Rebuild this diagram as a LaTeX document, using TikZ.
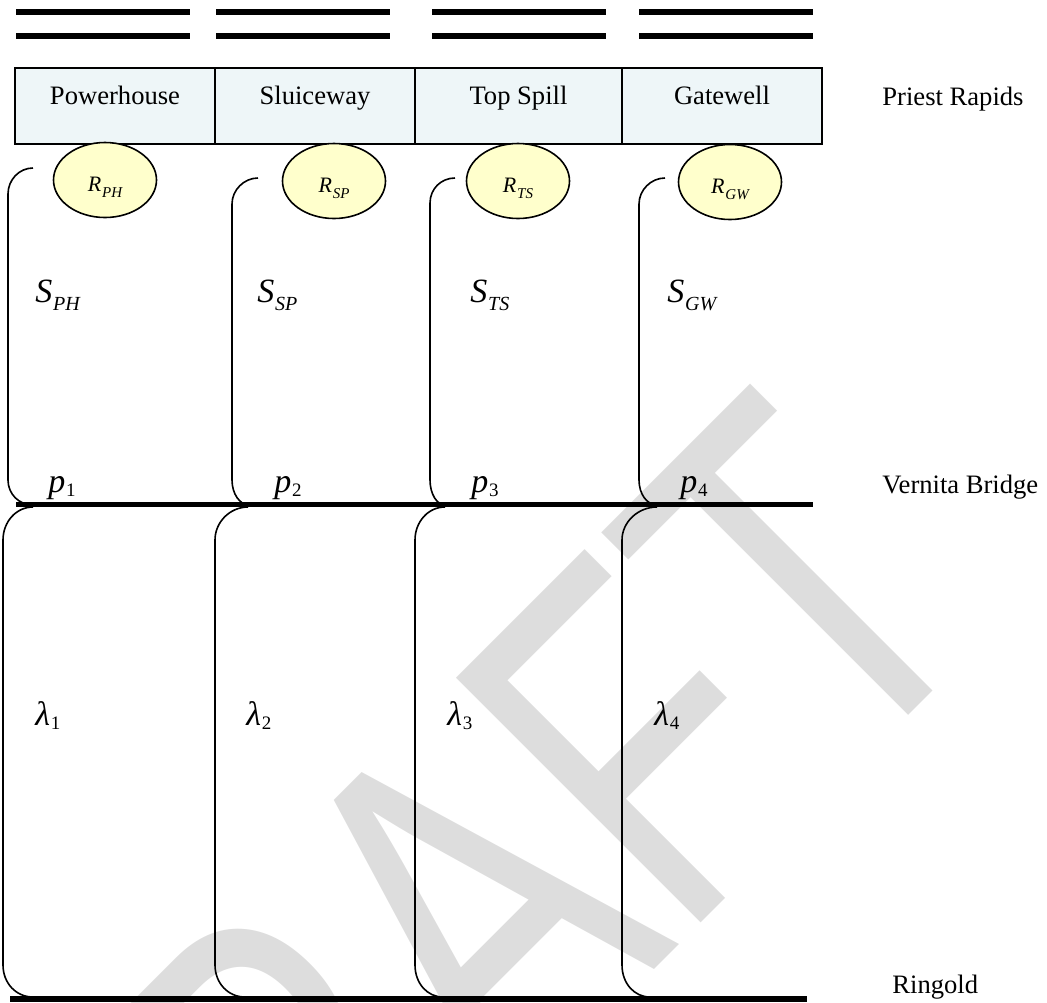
\documentclass[tikz,border=0pt]{standalone}
\usepackage{fontspec}
\setmainfont{Liberation Serif}
\newfontfamily\wmfont{Liberation Sans}
\usetikzlibrary{shapes.geometric}

\definecolor{boxfill}{RGB}{238,246,248}
\definecolor{dotfill}{RGB}{255,255,204}
\definecolor{wmgray}{RGB}{221,221,221}

% symbol with a lowered index: sizes, drop, symbol, index
\newcommand\withsub[5]{{\fontsize{#1}{#1}\selectfont#4}\kern0.4pt\raisebox{-#3}{\fontsize{#2}{#2}\selectfont#5}}
\newcommand\bigsym[2]{\withsub{17pt}{10pt}{4pt}{\itshape #1}{\itshape #2}}
\newcommand\numsym[2]{\withsub{17pt}{9.5pt}{2pt}{\itshape #1}{#2}}
\newcommand\ratesym[1]{\withsub{11pt}{7.5pt}{3pt}{\itshape R}{\itshape #1}}

\begin{document}
\begin{tikzpicture}[x=0.5pt,y=-0.5pt,
  stage/.style={draw, line width=0.75pt, fill=boxfill, minimum width=100pt,
    minimum height=38pt, inner sep=0pt, text height=10pt, text depth=12pt,
    font=\fontsize{13.3}{16}\selectfont},
  rate/.style={ellipse, draw, line width=0.8pt, fill=dotfill, minimum width=51.5pt,
    minimum height=37.5pt, inner sep=0pt, text height=11.2pt, text depth=0pt},
  site/.style={anchor=base west, inner sep=0pt, font=\fontsize{13.3}{16}\selectfont},
  sym/.style={anchor=base west, inner sep=0pt},
  bar/.style={line width=2.9pt},
  bracket/.style={line width=0.8pt},
]
\useasboundingbox (0,0) rectangle (1047,1002);

% watermark behind everything
\begin{scope}
  \clip (0,0) rectangle (1047,1002);
  \node[anchor=base west, inner sep=0pt, rotate=45, text=wmgray,
    font=\wmfont\fontsize{251.5}{251.5}\selectfont] (draftmark) at (124,1500)
    {\scalebox{0.74}[1]{DRAFT}};
\end{scope}

% double bars above each passage
\foreach \a/\b in {16/190, 216/390, 432/606, 639/813} {
  \draw[bar] (\a,12) -- (\b,12);
  \draw[bar] (\a,36) -- (\b,36);
}

% passage routes at the dam
\node[stage] (ph) at (115,106) {Powerhouse};
\node[stage] (sp) at (315,106) {Sluiceway};
\node[stage, minimum width=103.5pt] (ts) at (518.5,106) {Top Spill};
\node[stage] (gw) at (722,106) {Gatewell};

% release rates
\node[rate] (rph) at (105,180) {\ratesym{PH}};
\node[rate] (rsp) at (334,181) {\ratesym{SP}};
\node[rate] (rts) at (518,181) {\ratesym{TS}};
\node[rate] (rgw) at (730,182) {\ratesym{GW}};

% river reaches
\draw[bar] (16,504.5) -- (813,504.5);
\draw[bar] (10,999) -- (807,999);

% upper brackets: dam to Vernita Bridge
\draw[bracket] (33,168) .. controls +(-14,0) and +(0,-14) .. (8,194) -- (8,480)
  .. controls +(0,14) and +(-14,0) .. (33,505);
\draw[bracket] (258,178) .. controls +(-14,0) and +(0,-14) .. (232,204) -- (232,480)
  .. controls +(0,14) and +(-9,0) .. (249,505);
\draw[bracket] (455,178) .. controls +(-14,0) and +(0,-14) .. (430,203) -- (430,480)
  .. controls +(0,14) and +(-8,0) .. (445,505);
\draw[bracket] (665,178) .. controls +(-14,0) and +(0,-14) .. (639,204) -- (639,480)
  .. controls +(0,14) and +(-10,0) .. (657,505);

% lower brackets: Vernita Bridge to Ringold
\draw[bracket] (33,507) .. controls +(-17,0) and +(0,-18) .. (3,540) -- (3,965)
  .. controls +(0,18) and +(-17,0) .. (33,997);
\draw[bracket] (248,507) .. controls +(-18,0) and +(0,-18) .. (215,540) -- (215,965)
  .. controls +(0,18) and +(-17,0) .. (245,997);
\draw[bracket] (445,507) .. controls +(-17,0) and +(0,-18) .. (415,540) -- (415,965)
  .. controls +(0,18) and +(-16,0) .. (443,997);
\draw[bracket] (657,507) .. controls +(-19,0) and +(0,-18) .. (622,540) -- (622,965)
  .. controls +(0,18) and +(-16,0) .. (650,997);

% survival, detection and arrival symbols
\node[sym] (sph) at (35,302) {\bigsym{S}{PH}};
\node[sym] (ssp) at (257,302) {\bigsym{S}{SP}};
\node[sym] (sts) at (470,302) {\bigsym{S}{TS}};
\node[sym] (sgw) at (667,302) {\bigsym{S}{GW}};

\node[sym] (p1) at (48,492) {\numsym{p}{1}};
\node[sym] (p2) at (274,492) {\numsym{p}{2}};
\node[sym] (p3) at (471,492) {\numsym{p}{3}};
\node[sym] (p4) at (680,492) {\numsym{p}{4}};

\node[sym] (l1) at (35,725) {\numsym{λ}{1}};
\node[sym] (l2) at (246,725) {\numsym{λ}{2}};
\node[sym] (l3) at (447,725) {\numsym{λ}{3}};
\node[sym] (l4) at (654,725) {\numsym{λ}{4}};

% sites
\node[site] (priest) at (882,105) {Priest Rapids};
\node[site] (vernita) at (882,493) {Vernita Bridge};
\node[site] (ringold) at (892,993) {Ringold};
\end{tikzpicture}
\end{document}
